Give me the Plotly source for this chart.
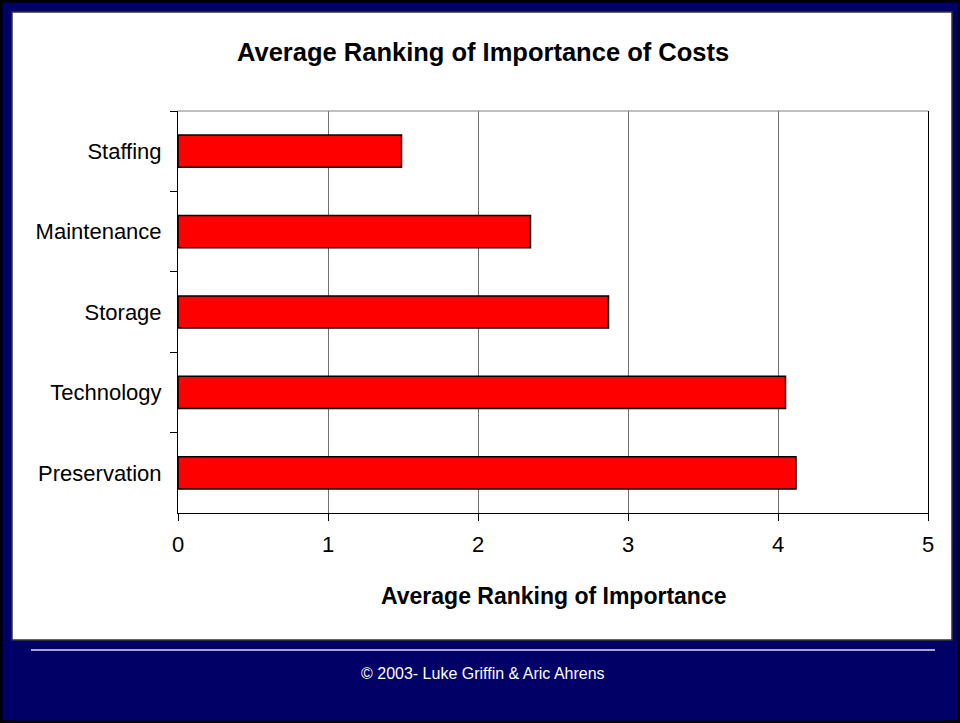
import plotly.graph_objects as go

categories = ["Staffing", "Maintenance", "Storage", "Technology", "Preservation"]
rankings = [1.49, 2.35, 2.87, 4.05, 4.12]
x_ticks = [0, 1, 2, 3, 4, 5]

navy = "#000066"
font_name = "Arial, Liberation Sans, sans-serif"

# plot area sits at x 178..928, y 111..513 of the 960x723 page
L, R, T, B = 178, 32, 111, 210
PW, PH = 960 - L - R, 723 - T - B


def px(x):
    return (x - L) / PW


def py(y):
    return (723 - B - y) / PH


fig = go.Figure()
fig.add_trace(go.Bar(
    x=rankings,
    y=categories,
    orientation="h",
    marker=dict(color="#FF0000", line=dict(color="black", width=1.5)),
    hoverinfo="x+y",
))

shapes = [
    # outer black edge
    dict(type="rect", xref="paper", yref="paper", x0=px(0), x1=px(960), y0=py(723), y1=py(0),
         line=dict(color="black", width=5), fillcolor=navy, layer="below"),
    # white panel
    dict(type="rect", xref="paper", yref="paper", x0=px(12), x1=px(952), y0=py(640), y1=py(12),
         line=dict(color="#333333", width=1.5), fillcolor="white", layer="below"),
    # top border of plot area
    dict(type="line", xref="paper", yref="paper", x0=0, x1=1, y0=1, y1=1,
         line=dict(color="#808080", width=1)),
    # footer rule
    dict(type="line", xref="paper", yref="paper", x0=px(31), x1=px(935), y0=py(650), y1=py(650),
         line=dict(color="#DDDDEE", width=1.5)),
]

annotations = [
    dict(text="<b>Average Ranking of Importance of Costs</b>", xref="paper", yref="paper",
         x=px(483), y=py(52), showarrow=False, xanchor="center", yanchor="middle",
         font=dict(size=25.5, color="black", family=font_name)),
    dict(text="<b>Average Ranking of Importance</b>", xref="paper", yref="paper",
         x=px(554), y=py(596), showarrow=False, xanchor="center", yanchor="middle",
         font=dict(size=23, color="black", family=font_name)),
    dict(text="© 2003- Luke Griffin & Aric Ahrens", xref="paper", yref="paper",
         x=px(483), y=py(673), showarrow=False, xanchor="center", yanchor="middle",
         font=dict(size=16, color="white", family=font_name)),
]

fig.update_layout(
    width=960,
    height=723,
    margin=dict(l=L, r=R, t=T, b=B, pad=0),
    paper_bgcolor=navy,
    plot_bgcolor="white",
    showlegend=False,
    bargap=0.6,
    shapes=shapes,
    annotations=annotations,
    font=dict(family=font_name, size=22, color="black"),
    xaxis=dict(
        range=[0, 5],
        tickvals=x_ticks,
        showgrid=True,
        gridcolor="#707070",
        gridwidth=1,
        zeroline=False,
        showline=True,
        linecolor="black",
        linewidth=1,
        ticks="outside",
        ticklen=7,
        tickcolor="black",
        tickfont=dict(size=22),
        ticklabelstandoff=5,
        fixedrange=True,
    ),
    yaxis=dict(
        autorange="reversed",
        showline=True,
        mirror=True,
        linecolor="black",
        linewidth=1,
        ticks="outside",
        tickson="boundaries",
        ticklen=7,
        tickcolor="black",
        tickfont=dict(size=22),
        ticklabelstandoff=11,
        showgrid=False,
        fixedrange=True,
    ),
)

fig.write_html("out.html", config={"displayModeBar": False},
               post_script="document.body.style.margin = '0';")
